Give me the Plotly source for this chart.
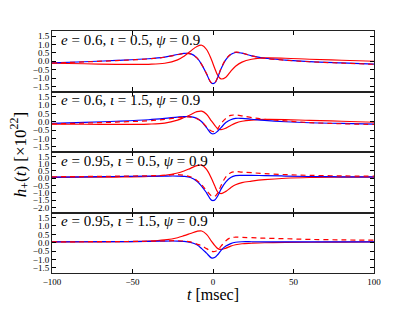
import plotly.graph_objects as go

# time knots [msec]
t = [-100, -80, -60, -40, -30, -22, -18, -14, -10, -7, -4, -1, 1, 3, 5, 8, 11, 14, 18, 24, 32, 45, 60, 80, 100]

# panel 1: e=0.6, iota=0.5
red1  = [-0.12, -0.15, -0.18, -0.18, -0.12, 0.08, 0.30, 0.60, 0.88, 0.95, 0.70, 0.10, -0.40, -0.85, -1.05, -0.95, -0.60, -0.30, -0.05, 0.12, 0.20, 0.18, 0.12, 0.06, 0.00]
blue1 = [-0.10, -0.03, 0.05, 0.15, 0.25, 0.40, 0.47, 0.45, 0.20, -0.20, -0.75, -1.30, -1.30, -0.95, -0.45, 0.10, 0.40, 0.52, 0.48, 0.32, 0.18, 0.07, -0.02, -0.10, -0.17]
dash1 = [-0.11, -0.04, 0.04, 0.14, 0.24, 0.39, 0.46, 0.44, 0.20, -0.20, -0.74, -1.28, -1.28, -0.93, -0.43, 0.12, 0.42, 0.54, 0.49, 0.32, 0.17, 0.06, -0.03, -0.11, -0.18]

# panel 2: e=0.6, iota=1.5
red2  = [-0.14, -0.15, -0.16, -0.14, -0.08, 0.10, 0.25, 0.42, 0.60, 0.63, 0.45, 0.05, -0.20, -0.42, -0.47, -0.38, -0.22, -0.08, 0.03, 0.10, 0.14, 0.13, 0.08, 0.03, -0.03]
blue2 = [-0.10, -0.04, 0.03, 0.12, 0.20, 0.28, 0.31, 0.30, 0.20, 0.00, -0.35, -0.70, -0.70, -0.55, -0.35, -0.05, 0.12, 0.20, 0.20, 0.15, 0.08, 0.00, -0.06, -0.10, -0.14]
dash2 = [-0.13, -0.08, -0.02, 0.06, 0.14, 0.24, 0.28, 0.28, 0.18, 0.00, -0.30, -0.55, -0.58, -0.40, -0.10, 0.20, 0.38, 0.40, 0.35, 0.25, 0.15, 0.05, -0.05, -0.12, -0.16]

# panel 3: e=0.95, iota=0.5
red3  = [0.06, 0.07, 0.08, 0.12, 0.20, 0.36, 0.50, 0.68, 0.86, 0.90, 0.60, 0.00, -0.50, -0.95, -1.05, -0.90, -0.65, -0.45, -0.30, -0.20, -0.10, 0.00, 0.05, 0.07, 0.08]
blue3 = [0.08, 0.10, 0.12, 0.14, 0.15, 0.15, 0.13, 0.05, -0.20, -0.55, -1.00, -1.50, -1.50, -1.20, -0.75, -0.25, 0.05, 0.18, 0.20, 0.20, 0.18, 0.15, 0.12, 0.10, 0.09]
dash3 = [0.10, 0.12, 0.14, 0.17, 0.20, 0.25, 0.20, 0.10, -0.15, -0.45, -0.85, -1.20, -1.25, -1.00, -0.50, 0.10, 0.38, 0.45, 0.42, 0.38, 0.32, 0.25, 0.20, 0.16, 0.14]

# panel 4: e=0.95, iota=1.5
red4  = [0.05, 0.05, 0.06, 0.10, 0.17, 0.30, 0.42, 0.55, 0.68, 0.70, 0.50, 0.10, -0.15, -0.35, -0.40, -0.32, -0.20, -0.12, -0.06, -0.03, 0.00, 0.02, 0.03, 0.04, 0.05]
blue4 = [0.05, 0.06, 0.07, 0.08, 0.10, 0.10, 0.08, 0.02, -0.12, -0.35, -0.62, -0.90, -0.88, -0.70, -0.45, -0.20, -0.05, 0.03, 0.06, 0.06, 0.05, 0.05, 0.05, 0.05, 0.05]
dash4 = [0.05, 0.06, 0.07, 0.09, 0.11, 0.12, 0.10, 0.05, -0.08, -0.18, -0.35, -0.50, -0.52, -0.42, -0.20, 0.12, 0.30, 0.33, 0.32, 0.30, 0.27, 0.24, 0.20, 0.17, 0.15]

labels = ["<i>e</i> = 0.6, <i>ι</i> = 0.5, <i>ψ</i> = 0.9",
          "<i>e</i> = 0.6, <i>ι</i> = 1.5, <i>ψ</i> = 0.9",
          "<i>e</i> = 0.95, <i>ι</i> = 0.5, <i>ψ</i> = 0.9",
          "<i>e</i> = 0.95, <i>ι</i> = 1.5, <i>ψ</i> = 0.9"]
yranges = [[-1.8, 1.8], [-1.8, 1.8], [-2.35, 1.8], [-1.8, 1.8]]
yticks = [[-1.5, -1.0, -0.5, 0.0, 0.5, 1.0, 1.5],
          [-1.5, -1.0, -0.5, 0.0, 0.5, 1.0, 1.5],
          [-2.0, -1.5, -1.0, -0.5, 0.0, 0.5, 1.0, 1.5],
          [-1.5, -1.0, -0.5, 0.0, 0.5, 1.0, 1.5]]
xticks = [-100, -50, 0, 50, 100]

panels = [(red1, blue1, dash1), (red2, blue2, dash2), (red3, blue3, dash3), (red4, blue4, dash4)]

FONT = "Liberation Serif"
fig = go.Figure()
n = 4
for i, (r, b, d) in enumerate(panels):
    k = "" if i == 0 else str(i + 1)
    xa, ya = "x" + k, "y" + k
    fig.add_trace(go.Scatter(x=t, y=r, mode="lines", line=dict(color="#ff0000", width=1.2, shape="spline", smoothing=1.0),
                             xaxis=xa, yaxis=ya, showlegend=False))
    fig.add_trace(go.Scatter(x=t, y=b, mode="lines", line=dict(color="#0000ff", width=1.2, shape="spline", smoothing=1.0),
                             xaxis=xa, yaxis=ya, showlegend=False))
    fig.add_trace(go.Scatter(x=t, y=d, mode="lines", line=dict(color="#ff0000", width=1.2, dash="5px,4px", shape="spline", smoothing=1.0),
                             xaxis=xa, yaxis=ya, showlegend=False))
    top = 1 - i / n
    bot = 1 - (i + 1) / n
    axcommon = dict(showline=True, linecolor="#222222", linewidth=1.1, mirror="ticks", ticks="inside",
                    ticklen=4, tickcolor="black", tickwidth=0.8, showgrid=False, zeroline=False,
                    automargin=False, tickfont=dict(family=FONT, size=9, color="black"))
    fig.layout["xaxis" + k] = dict(axcommon, domain=[0, 1], range=[-100, 100], tickvals=xticks,
                                   showticklabels=(i == n - 1), anchor=ya,
                                   **({} if i == 0 else {"matches": "x"}))
    fig.layout["yaxis" + k] = dict(axcommon, domain=[bot, top], range=yranges[i], tickvals=yticks[i],
                                   tickformat=".1f", anchor=xa)
    fig.add_annotation(text=labels[i], xref="paper", yref="paper", x=0.022, y=top - 0.036,
                       xanchor="left", yanchor="middle", showarrow=False,
                       font=dict(family=FONT, size=15, color="black"))

fig.add_annotation(text="<i>t</i> [msec]", xref="paper", yref="paper", x=0.5, y=-0.088,
                   xanchor="center", yanchor="middle", showarrow=False,
                   font=dict(family=FONT, size=16, color="black"))
fig.add_annotation(text="<i>h</i><sub>+</sub>(<i>t</i>) [×10<sup>22</sup>]", xref="paper", yref="paper",
                   x=-0.1, y=0.49, xanchor="center", yanchor="middle", textangle=-90, showarrow=False,
                   font=dict(family=FONT, size=17, color="black"))

fig.update_layout(width=407, height=304, margin=dict(l=44, r=41, t=23, b=39),
                  paper_bgcolor="white", plot_bgcolor="white")
fig.write_html("out.html")
